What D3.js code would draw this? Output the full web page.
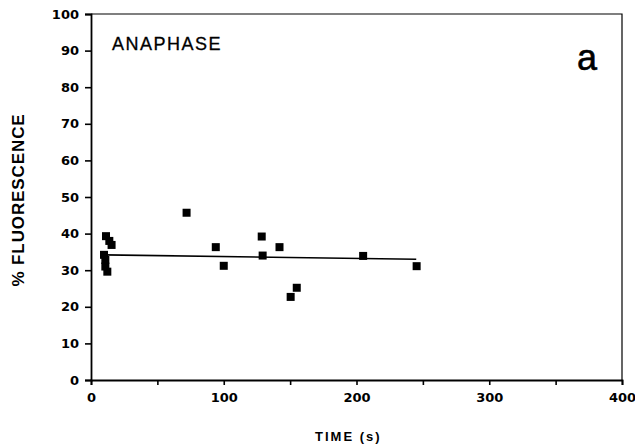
<!DOCTYPE html>
<html><head><meta charset="utf-8">
<script src="https://cdn.jsdelivr.net/npm/d3@7"></script>
<style>body{margin:0;background:#fff}svg{display:block}</style>
</head><body>
<script>
const times  = [11.3, 13.8, 15.5, 9.8, 10.8, 10.8, 12.3, 72, 94, 100, 128.6, 129.3, 142, 155, 150.4, 205, 245.3];
const values = [39.3, 38.0, 36.9, 34.2, 32.8, 31.0, 29.6, 45.7, 36.3, 31.2, 39.2, 34.0, 36.3, 25.2, 22.7, 33.9, 31.1];
const fitX = [10, 245];
const fitY = [34.2, 33.0];
const xTicks = [0, 50, 100, 150, 200, 250, 300, 350, 400];
const xTickLabels = ["0", "", "100", "", "200", "", "300", "", "400"];
const yTicks = [0, 10, 20, 30, 40, 50, 60, 70, 80, 90, 100];

const W = 635, H = 448;
const svg = d3.select("body").append("svg").attr("width", W).attr("height", H);
const x = d3.scaleLinear().domain([0, 400]).range([91, 622]);
const y = d3.scaleLinear().domain([0, 100]).range([380, 14]);

// plot box top/right
svg.append("path").attr("d", `M${x(0)},${y(100)}H${x(400)}V${y(0)}`)
  .attr("fill", "none").attr("stroke", "#000").attr("stroke-width", 1.2);

const xAxis = svg.append("g").attr("transform", `translate(0,${y(0)})`)
  .call(d3.axisBottom(x).tickValues(xTicks).tickSize(5).tickPadding(8)
    .tickFormat((d, i) => xTickLabels[i]));
const yAxis = svg.append("g").attr("transform", `translate(${x(0)},0)`)
  .call(d3.axisLeft(y).tickValues(yTicks).tickSize(6).tickPadding(6).tickFormat(d3.format("d")));
[xAxis, yAxis].forEach(g => {
  g.select(".domain").attr("stroke-width", 1.8);
  g.selectAll(".tick line").attr("stroke-width", 1.6);
  g.selectAll("text").attr("font-family", "DejaVu Sans").attr("font-weight", "bold")
    .attr("font-size", 13).attr("fill", "#000");
});

// fit line
svg.append("line").attr("x1", x(fitX[0])).attr("y1", y(fitY[0]))
  .attr("x2", x(fitX[1])).attr("y2", y(fitY[1]))
  .attr("stroke", "#000").attr("stroke-width", 1.6);

// points
const s = 8;
svg.append("g").selectAll("rect").data(times.map((t, i) => [t, values[i]])).join("rect")
  .attr("x", d => x(d[0]) - s / 2).attr("y", d => y(d[1]) - s / 2)
  .attr("width", s).attr("height", s).attr("fill", "#000");

// texts
svg.append("text").attr("x", 112).attr("y", 50).text("ANAPHASE")
  .attr("font-family", "Liberation Sans").attr("font-size", 18).attr("letter-spacing", 1.5)
  .attr("stroke", "#000").attr("stroke-width", 0.3);
svg.append("text").attr("x", 577).attr("y", 70).text("a")
  .attr("font-family", "Liberation Sans").attr("font-size", 36)
  .attr("stroke", "#000").attr("stroke-width", 0.6);
svg.append("text").attr("x", 315).attr("y", 441).text("TIME (s)")
  .attr("font-family", "Liberation Sans").attr("font-weight", "bold").attr("font-size", 13).attr("letter-spacing", 2);
svg.append("text").attr("transform", "translate(24,200) rotate(-90)").attr("text-anchor", "middle")
  .text("% FLUORESCENCE")
  .attr("font-family", "Liberation Sans").attr("font-weight", "bold").attr("font-size", 17).attr("letter-spacing", 0.9);
</script>
</body></html>
